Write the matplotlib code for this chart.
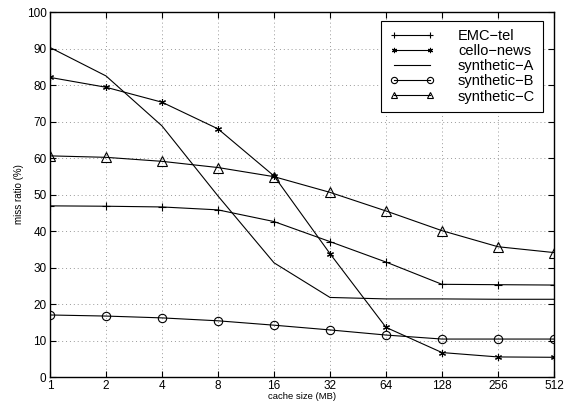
import matplotlib
matplotlib.use("Agg")
import matplotlib.pyplot as plt
from matplotlib.ticker import FixedLocator, FixedFormatter, NullLocator

plt.rcParams['font.family'] = ['Liberation Sans', 'DejaVu Sans']

cache_sizes = [1, 2, 4, 8, 16, 32, 64, 128, 256, 512]
tick_labels = ["1", "2", "4", "8", "16", "32", "64", "128", "256", "512"]

emc_tel = [46.9, 46.8, 46.6, 45.8, 42.6, 37.1, 31.5, 25.4, 25.3, 25.2]
cello_news = [82.1, 79.4, 75.3, 68.0, 55.1, 33.8, 13.6, 6.7, 5.5, 5.4]
synthetic_a = [90.3, 82.5, 68.8, 49.6, 31.3, 21.8, 21.4, 21.4, 21.3, 21.3]
synthetic_b = [17.0, 16.7, 16.2, 15.4, 14.2, 12.9, 11.5, 10.4, 10.4, 10.4]
synthetic_c = [60.6, 60.2, 59.1, 57.4, 54.9, 50.6, 45.5, 40.1, 35.7, 34.1]

fig = plt.figure(figsize=(5.73, 4.03), dpi=100)
ax = fig.add_axes([0.0873, 0.0645, 0.8795, 0.9055])

lw = 0.8
ax.plot(cache_sizes, emc_tel, color='black', lw=lw, marker='+', ms=6, mew=0.8, label='EMC\u2212tel')
ax.plot(cache_sizes, cello_news, color='black', lw=lw, marker=(6, 2, 0), ms=5, mew=0.8, label='cello\u2212news')
ax.plot(cache_sizes, synthetic_a, color='black', lw=lw, label='synthetic\u2212A')
ax.plot(cache_sizes, synthetic_b, color='black', lw=lw, marker='o', ms=6, mfc='none', mew=0.8, label='synthetic\u2212B')
ax.plot(cache_sizes, synthetic_c, color='black', lw=lw, marker='^', ms=6.5, mfc='none', mew=0.8, label='synthetic\u2212C')

ax.set_xscale('log', base=2)
ax.set_xlim(1, 512)
ax.set_ylim(0, 100)
ax.xaxis.set_major_locator(FixedLocator(cache_sizes))
ax.xaxis.set_major_formatter(FixedFormatter(tick_labels))
ax.xaxis.set_minor_locator(NullLocator())
ax.set_yticks(range(0, 101, 10))

ax.grid(True, linestyle=(0, (1, 3)), color='#999999', lw=0.7)
ax.tick_params(direction='in', top=True, right=True, length=4, width=0.8, labelsize=8.5, pad=2.5)
for s in ax.spines.values():
    s.set_linewidth(1.0)

ax.set_xlabel('cache size (MB)', fontsize=6.8, labelpad=0)
ax.set_ylabel('miss ratio (%)', fontsize=7, labelpad=2)

leg = ax.legend(loc='upper right', bbox_to_anchor=(0.9785, 0.976), fontsize=10.5, frameon=True, fancybox=False,
                edgecolor='black', framealpha=1, numpoints=2, markerscale=0.75, handlelength=3.1,
                handletextpad=1.6, labelspacing=0.08, borderpad=0.55, borderaxespad=0)
leg.get_frame().set_linewidth(0.8)

fig.savefig('out.png', dpi=100)
